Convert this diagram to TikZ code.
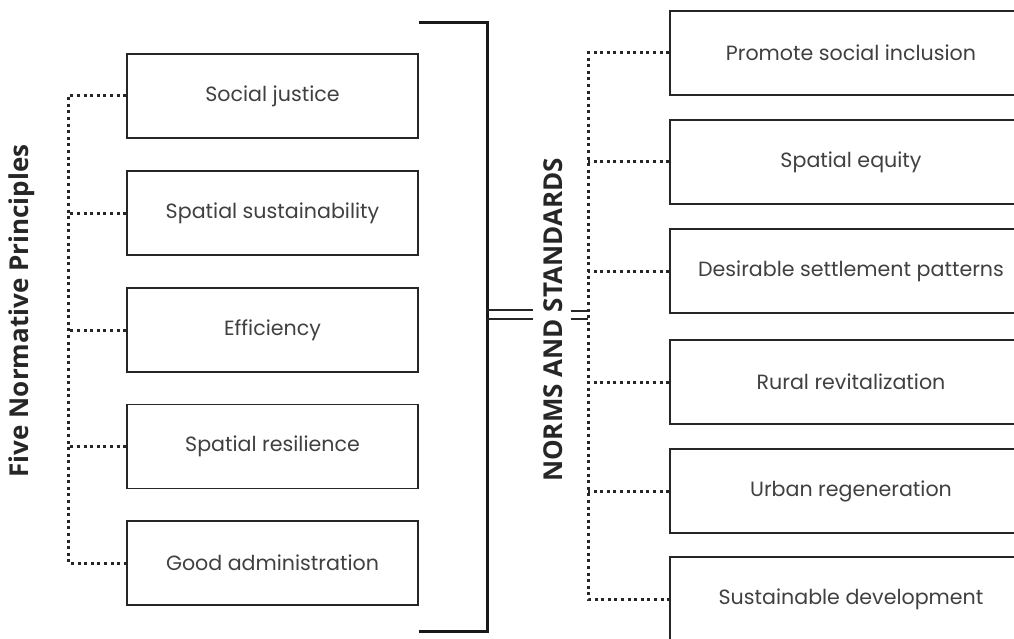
\documentclass[tikz,border=0pt]{standalone}
\usepackage{fontspec}
\setmainfont{Poppins}
\newfontfamily\labelfont{Open Sans}
\usepackage{tikz}
\usepackage{xcolor}
\usetikzlibrary{positioning, calc}

\definecolor{boxtext}{HTML}{404040}
\definecolor{boxline}{HTML}{262626}

\begin{document}
\begin{tikzpicture}[x=1pt, y=-1pt,
  principle/.style={draw=boxline, line width=1.8pt, minimum width=291pt, minimum height=84pt,
    inner sep=0pt, text=boxtext, font=\fontsize{20.6}{23}\selectfont},
  standard/.style={principle, minimum width=362pt},
  sidelabel/.style={rotate=90, font=\labelfont\bfseries\fontsize{26}{29}\selectfont, text=black!85},
  dots/.style={line width=3pt, dash pattern=on 3pt off 3.6pt, black!85},
  bracket/.style={line width=3pt, black!90},
  eqline/.style={line width=2pt, black!85}]
\useasboundingbox (0,0) rectangle (1014,639);

% left column
\node[sidelabel] (five) at (22,311) {Five Normative Principles};
\node[principle] (justice) at (272.5,96) {Social justice};
\node[principle] (sustain) at (272.5,213) {Spatial sustainability};
\node[principle] (effic) at (272.5,330) {Efficiency};
\node[principle] (resil) at (272.5,446.5) {Spatial resilience};
\node[principle] (admin) at (272.5,563) {Good administration};

\coordinate (lspine) at (68,96);
\draw[dots] (justice.west) -| (lspine |- admin.west) -- (admin.west);
\draw[dots] (sustain.west) -- (lspine |- sustain.west);
\draw[dots] (effic.west) -- (lspine |- effic.west);
\draw[dots] (resil.west) -- (lspine |- resil.west);

% bracket and label
\coordinate (btop) at (487,23);
\coordinate (bbot) at (487,631);
\coordinate (bmid) at (487,314.5);
\draw[bracket] (justice.east |- btop) -- (btop) -- (bbot) -- (admin.east |- bbot);
\node[sidelabel] (norms) at (553,320) {NORMS AND STANDARDS};
\draw[eqline] ([yshift=4.3pt]bmid) -- ++(46,0);
\draw[eqline] ([yshift=-4.3pt]bmid) -- ++(46,0);

% right column
\node[standard] (inclusion) at (851,53) {Promote social inclusion};
\node[standard] (equity) at (851,162) {Spatial equity};
\node[standard] (settle) at (851,271) {Desirable settlement patterns};
\node[standard] (rural) at (851,382) {Rural revitalization};
\node[standard] (urban) at (851,491) {Urban regeneration};
\node[standard] (sustdev) at (851,599) {Sustainable development};

\coordinate (rspine) at (588,53);
\coordinate (rmid) at (588,315);
\draw[dots] (inclusion.west) -| (rspine |- sustdev.west) -- (sustdev.west);
\draw[dots] (equity.west) -- (rspine |- equity.west);
\draw[dots] (settle.west) -- (rspine |- settle.west);
\draw[dots] (rural.west) -- (rspine |- rural.west);
\draw[dots] (urban.west) -- (rspine |- urban.west);
\draw[eqline] ([yshift=4pt]rmid) -- ++(-17,0);
\draw[eqline] ([yshift=-4pt]rmid) -- ++(-17,0);
\end{tikzpicture}
\end{document}
